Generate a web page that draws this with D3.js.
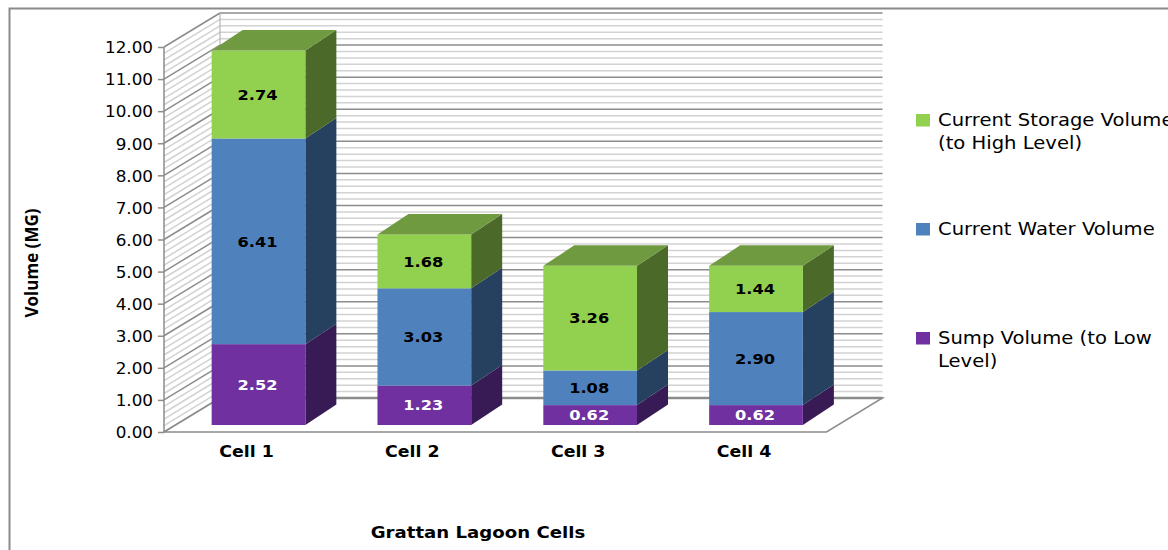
<!DOCTYPE html>
<html lang="en">
<head>
<meta charset="UTF-8">
<title>Grattan Lagoon Cells</title>
<script src="https://cdn.jsdelivr.net/npm/d3@7"></script>
<style>
    html,body{margin:0;padding:0;background:#fff;overflow:hidden;}
    svg{display:block;}
    text{font-family:"DejaVu Sans",sans-serif;fill:#000;}
    .axis .domain{display:none;}
</style>
</head>
<body>
<svg width="1168" height="550"></svg>
<script>
    // values
    var cells = ['Cell 1','Cell 2','Cell 3','Cell 4'];
    var sump = [2.52,1.23,0.62,0.62];
    var water = [6.41,3.03,1.08,2.90];
    var storage = [2.74,1.68,3.26,1.44];
    var keys = ['sump','water','storage'];
    var legendLines = {
        storage:['Current Storage Volume','(to High Level)'],
        water:['Current Water Volume'],
        sump:['Sump Volume (to Low','Level)']
    };
    var colors = {
        sump:{front:'#7030a0',side:'#381b54',top:'#5a2782'},
        water:{front:'#4f81bd',side:'#264060',top:'#3f6797'},
        storage:{front:'#92d050',side:'#4b6a29',top:'#6f9a3f'}
    };

    var svg = d3.select('svg');
    var plotLeft = 164, plotRight = 826.5, plotBottom = 432, plotTop = 47;
    // oblique offsets of the 3d box and of the bars
    var wall = {dx:56,dy:-34}, bar = {dx:31,dy:-20.5}, barShift = {dx:12,dy:-7};
    var wide = 1.12; // the reference text is stretched sideways

    var x = d3.scaleBand().domain(cells).range([plotLeft,plotRight]).paddingInner(.435).paddingOuter(.215);
    var y = d3.scaleLinear().domain([0,12]).range([plotBottom,plotTop]);

    // outer frame, cut off by the page like the reference
    svg.append('path').attr('d','M9.5,550V8.5H1168').attr('fill','none').attr('stroke','#8a8a8a').attr('stroke-width',2);

    /********** walls and floor **********/
    var walls = svg.append('g').attr('fill','none');
    function gridLines(vals,stroke,w){
        var g = walls.append('g').attr('stroke',stroke).attr('stroke-width',w);
        g.selectAll('.side').data(vals).enter().append('line').attr('class','side')
            .attr('x1',plotLeft).attr('y1',function(d){return y(d);})
            .attr('x2',plotLeft+wall.dx).attr('y2',function(d){return y(d)+wall.dy;});
        g.selectAll('.back').data(vals).enter().append('line').attr('class','back')
            .attr('x1',plotLeft+wall.dx).attr('y1',function(d){return y(d)+wall.dy;})
            .attr('x2',plotRight+wall.dx).attr('y2',function(d){return y(d)+wall.dy;});
    }
    var major = y.ticks(12);
    var minor = y.ticks(60).filter(function(d){return major.indexOf(d)<0;});
    gridLines(minor,'#d2d2d2',1.5);
    gridLines(major,'#8c8c8c',1.5);

    walls.append('line').attr('x1',plotLeft+wall.dx).attr('x2',plotLeft+wall.dx)
        .attr('y1',y(0)+wall.dy).attr('y2',y(12)+wall.dy).attr('stroke','#a8a8a8').attr('stroke-width',1);
    walls.append('path')
        .attr('d','M'+(plotLeft+wall.dx)+','+(y(0)+wall.dy)+'H'+(plotRight+wall.dx)+'L'+plotRight+','+y(0)+'H'+plotLeft+'Z')
        .attr('fill','#fff').attr('stroke','#8c8c8c').attr('stroke-width',1.5);
    walls.append('line').attr('x1',plotLeft+wall.dx).attr('x2',plotRight+wall.dx)
        .attr('y1',y(0)+wall.dy).attr('y2',y(0)+wall.dy).attr('stroke','#8c8c8c').attr('stroke-width',2.5);

    /********** stacked boxes **********/
    var table = cells.map(function(c,i){return {cell:c,sump:sump[i],water:water[i],storage:storage[i]};});
    var stacked = d3.stack().keys(keys)(table);
    var w = x.bandwidth();

    function bx(d){return x(d.data.cell)+barShift.dx;}
    function by(v){return y(v)+barShift.dy;}

    var layers = svg.append('g').selectAll('g').data(stacked).enter().append('g');
    layers.each(function(layer){
        var c = colors[layer.key], g = d3.select(this);
        g.selectAll('.side').data(layer).enter().append('path').attr('class','side').attr('fill',c.side)
            .attr('d',function(d){
                var r = bx(d)+w;
                return 'M'+r+','+by(d[1])+'l'+bar.dx+','+bar.dy+'V'+(by(d[0])+bar.dy)+'L'+r+','+by(d[0])+'Z';
            });
        g.selectAll('.front').data(layer).enter().append('rect').attr('class','front').attr('fill',c.front)
            .attr('x',bx).attr('width',w)
            .attr('y',function(d){return by(d[1]);})
            .attr('height',function(d){return by(d[0])-by(d[1]);});
    });
    // lid only on the top layer
    svg.append('g').selectAll('path').data(stacked[2]).enter().append('path')
        .attr('fill',colors.storage.top)
        .attr('d',function(d){
            return 'M'+bx(d)+','+by(d[1])+'l'+bar.dx+','+bar.dy+'h'+w+'l'+(-bar.dx)+','+(-bar.dy)+'Z';
        });

    /********** value labels **********/
    layers.each(function(layer){
        d3.select(this).selectAll('.val').data(layer).enter().append('text').attr('class','val')
            .attr('transform',function(d){
                return 'translate('+(bx(d)+w/2-1)+','+((by(d[0])+by(d[1]))/2)+') scale('+wide+',1)';
            })
            .attr('dy','.36em').attr('text-anchor','middle')
            .attr('font-size',14.5).attr('font-weight','bold')
            .style('fill',layer.key==='sump'?'#fff':'#000')
            .text(function(d){return (d[1]-d[0]).toFixed(2);});
    });

    /********** axes **********/
    var yAxis = svg.append('g').attr('class','axis').attr('transform','translate('+plotLeft+',0)')
        .call(d3.axisLeft(y).ticks(12).tickSize(6).tickFormat(d3.format('.2f')));
    yAxis.selectAll('line').attr('stroke','#8c8c8c').attr('stroke-width',1.5);
    yAxis.selectAll('text').attr('font-size',15).attr('x',0).attr('text-anchor','end')
        .attr('transform','translate(-11,1) scale('+wide+',1)');
    yAxis.append('line').attr('y1',y(12)).attr('y2',y(0)).attr('stroke','#8c8c8c').attr('stroke-width',1.5);

    svg.append('g').selectAll('text').data(cells).enter().append('text')
        .attr('transform',function(d){return 'translate('+(x(d)+w/2)+',457) scale('+wide+',1)';})
        .attr('text-anchor','middle').attr('font-size',15.5).attr('font-weight','bold')
        .text(function(d){return d;});

    svg.append('text').attr('transform','translate(478,538) scale('+wide+',1)').attr('text-anchor','middle')
        .attr('font-size',16.2).attr('font-weight','bold').text('Grattan Lagoon Cells');

    svg.append('text').attr('transform','translate(38,263) rotate(-90)').attr('text-anchor','middle')
        .attr('font-size',17).attr('font-weight','bold')
        .style('font-family','"Liberation Sans Narrow","Open Sans",sans-serif')
        .text('Volume (MG)');

    /********** legend **********/
    var legendY = d3.scalePoint().domain(keys).range([332,114]);
    var legend = svg.append('g').selectAll('g').data(keys).enter().append('g')
        .attr('transform',function(d){return 'translate(916,'+legendY(d)+')';});
    legend.append('rect').attr('width',14).attr('height',12.5)
        .attr('fill',function(d){return colors[d].front;});
    legend.append('text').attr('transform','translate(22,12) scale('+wide+',1)').attr('font-size',17.5)
        .selectAll('tspan').data(function(d){return legendLines[d];}).enter().append('tspan')
        .attr('x',0).attr('dy',function(d,i){return i?23.5:0;})
        .text(function(d){return d;});
</script>
</body>
</html>
